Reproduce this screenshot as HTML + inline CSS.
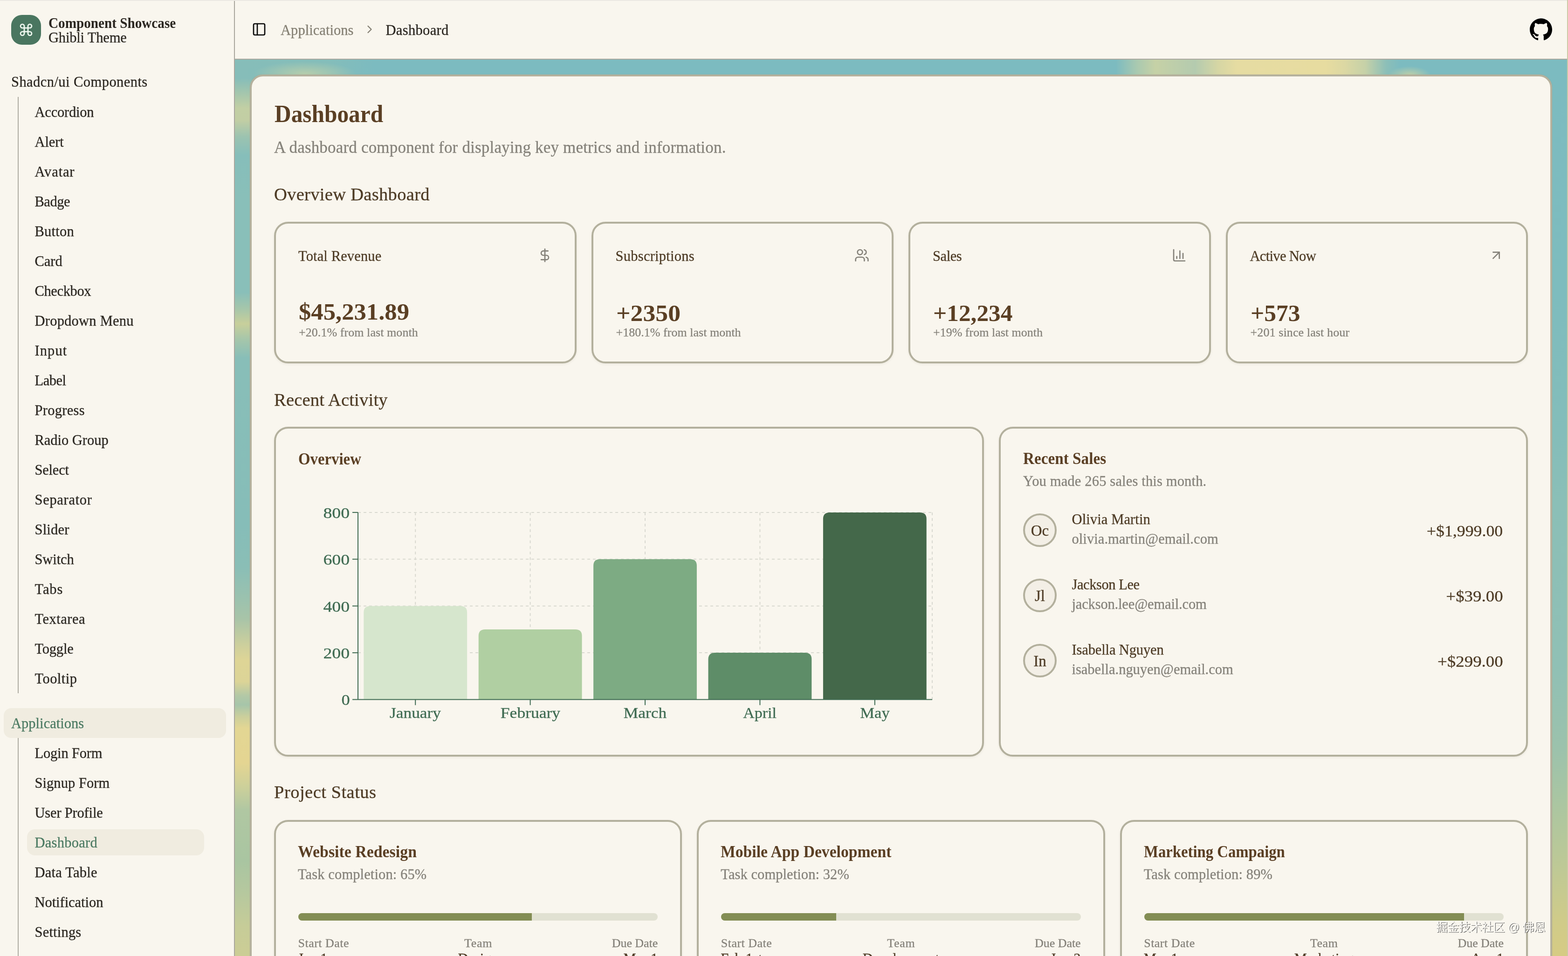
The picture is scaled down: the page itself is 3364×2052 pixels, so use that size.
<!DOCTYPE html><html lang="en"><head><meta charset="utf-8"><title>Dashboard - Component Showcase</title><style>
*{margin:0;padding:0}
html,body{width:3364px;height:2052px;overflow:hidden;background:#f9f6ee;font-family:"Liberation Serif",serif;}
body{position:relative;will-change:transform}
.t{position:absolute;white-space:nowrap;font-kerning:normal;-webkit-text-stroke:.3px}
.b{-webkit-text-stroke:0}
.sidebar{position:absolute;left:0;top:0;width:502px;height:2052px;background:#f9f6ee;border-right:2px solid #a9a69d}
.topbar{position:absolute;left:504px;top:0;width:2860px;height:126px;background:#f9f6ee;border-bottom:2px solid #aaa89f}
.bgmain{position:absolute;left:504px;top:128px;width:2858px;height:1924px;background:#7cbbc0}
.bgtop{position:absolute;left:504px;top:128px;width:2858px;height:36px;background:
 radial-gradient(ellipse 110px 26px at 150px 30px,rgba(190,208,170,.85),rgba(190,208,170,0) 100%),
 radial-gradient(ellipse 46px 20px at 2520px 34px,rgba(200,210,165,.9),rgba(200,210,165,0) 100%),
 linear-gradient(90deg,#86bdb9 0,#84bdba 200px,#7cbbc0 300px,#7cbbc0 1890px,#a9c9b0 1935px,#c6d1a6 1975px,#b4cbaf 2060px,#d6d6a4 2110px,#e6dca2 2150px,#e7dca0 2340px,#dcd8a3 2380px,#c6d1a8 2425px,#8cbfb8 2470px,#7cbbc0 2500px,#7cbbc0 100%)}
.bgleft{position:absolute;left:504px;top:128px;width:64px;height:1924px;background:
 linear-gradient(180deg,#84bdba 0,#86bdb9 40px,#a4c6ad 72px,#c2cfa4 104px,#c2cea4 130px,#9cc3b0 165px,#86beba 205px,#89bfb9 300px,#89bfb9 500px,#a6c6aa 535px,#c8cf9b 567px,#a6c6aa 600px,#88beb8 640px,#86bdb8 1000px,#8abeb6 1090px,#9cc2ae 1160px,#a8c4a8 1200px,#cfd09c 1260px,#ded596 1290px,#dcd497 1335px,#b3c8a6 1365px,#a6c5aa 1385px,#cbcf9c 1410px,#e3d693 1435px,#e4d592 1510px,#cdd09a 1560px,#b0c7a2 1610px,#a9c5a1 1720px,#b6c89e 1790px,#c6cc98 1860px,#cccd95 1924px)}
.bgright{position:absolute;left:3298px;top:128px;width:64px;height:1924px;background:
 linear-gradient(180deg,#7cbbc0 0,#7ebcbe 500px,#84bdba 800px,#8bbfb7 950px,#90c0b5 1300px,#9cc2ac 1480px,#abc6a1 1600px,#bfc995 1740px,#d0cb89 1850px,#d6cb84 1924px)}
.maincard{position:absolute;left:536px;top:160px;width:2794px;height:1960px;box-sizing:border-box;border:4px solid #b5b19d;border-radius:28px;background:#f9f6ee;box-shadow:0 0 2px rgba(150,140,105,.4)}
.topline{position:absolute;left:0;top:0;width:3364px;height:2px;background:#ece9e3}
.rightsliver{position:absolute;left:3362px;top:0;width:2px;height:2052px;background:#cdc9a5}
</style></head><body><div class="bgmain"></div><div class="bgleft"></div><div class="bgright"></div><div class="bgtop"></div><aside><div class="sidebar"></div><div style="position:absolute;left:24px;top:32px;width:64px;height:64px;border-radius:23px;background:#4a7660;"></div><svg style="position:absolute;left:40px;top:48px" width="32" height="32" viewBox="0 0 24 24" fill="none" stroke="#f3fbf3" stroke-width="2" stroke-linecap="round" stroke-linejoin="round"><path d="M15 6v12a3 3 0 1 0 3-3H6a3 3 0 1 0 3 3V6a3 3 0 1 0-3 3h12a3 3 0 1 0-3-3"/></svg><span class="t b" style="top:34.71px;font-size:30.5px;line-height:30.5px;color:#2b2721;font-weight:700;left:104.00px;transform:scaleX(0.9568);transform-origin:left center;">Component Showcase</span><span class="t" style="top:65.71px;font-size:30.5px;line-height:30.5px;color:#2b2721;letter-spacing:-0.180px;left:104.00px;">Ghibli Theme</span><span class="t" style="top:161.21px;font-size:30.5px;line-height:30.5px;color:#2b2721;letter-spacing:0.443px;left:24.00px;">Shadcn/ui Components</span><div style="position:absolute;left:38px;top:208px;width:2px;height:1280px;background:#aeaca2;"></div><span class="t" style="top:226.01px;font-size:30.5px;line-height:30.5px;color:#2b2721;letter-spacing:-0.214px;left:74.50px;">Accordion</span><span class="t" style="top:290.02px;font-size:30.5px;line-height:30.5px;color:#2b2721;letter-spacing:-0.113px;left:74.50px;">Alert</span><span class="t" style="top:354.03px;font-size:30.5px;line-height:30.5px;color:#2b2721;letter-spacing:0.860px;left:74.50px;">Avatar</span><span class="t" style="top:418.04px;font-size:30.5px;line-height:30.5px;color:#2b2721;letter-spacing:-0.500px;left:74.50px;">Badge</span><span class="t" style="top:482.05px;font-size:30.5px;line-height:30.5px;color:#2b2721;letter-spacing:0.235px;left:74.50px;">Button</span><span class="t" style="top:546.06px;font-size:30.5px;line-height:30.5px;color:#2b2721;letter-spacing:-0.026px;left:74.50px;">Card</span><span class="t" style="top:610.07px;font-size:30.5px;line-height:30.5px;color:#2b2721;letter-spacing:-0.379px;left:74.50px;">Checkbox</span><span class="t" style="top:674.08px;font-size:30.5px;line-height:30.5px;color:#2b2721;letter-spacing:0.231px;left:74.50px;">Dropdown Menu</span><span class="t" style="top:738.09px;font-size:30.5px;line-height:30.5px;color:#2b2721;letter-spacing:1.082px;left:74.50px;">Input</span><span class="t" style="top:802.10px;font-size:30.5px;line-height:30.5px;color:#2b2721;letter-spacing:-0.479px;left:74.50px;">Label</span><span class="t" style="top:866.11px;font-size:30.5px;line-height:30.5px;color:#2b2721;letter-spacing:0.280px;left:74.50px;">Progress</span><span class="t" style="top:930.12px;font-size:30.5px;line-height:30.5px;color:#2b2721;letter-spacing:-0.020px;left:74.50px;">Radio Group</span><span class="t" style="top:994.13px;font-size:30.5px;line-height:30.5px;color:#2b2721;letter-spacing:-0.202px;left:74.50px;">Select</span><span class="t" style="top:1058.14px;font-size:30.5px;line-height:30.5px;color:#2b2721;letter-spacing:0.693px;left:74.50px;">Separator</span><span class="t" style="top:1122.15px;font-size:30.5px;line-height:30.5px;color:#2b2721;letter-spacing:0.192px;left:74.50px;">Slider</span><span class="t" style="top:1186.16px;font-size:30.5px;line-height:30.5px;color:#2b2721;letter-spacing:-0.103px;left:74.50px;">Switch</span><span class="t" style="top:1250.17px;font-size:30.5px;line-height:30.5px;color:#2b2721;letter-spacing:0.883px;left:74.50px;">Tabs</span><span class="t" style="top:1314.18px;font-size:30.5px;line-height:30.5px;color:#2b2721;letter-spacing:0.498px;left:74.50px;">Textarea</span><span class="t" style="top:1378.19px;font-size:30.5px;line-height:30.5px;color:#2b2721;letter-spacing:-0.209px;left:74.50px;">Toggle</span><span class="t" style="top:1442.20px;font-size:30.5px;line-height:30.5px;color:#2b2721;letter-spacing:0.455px;left:74.50px;">Tooltip</span><div style="position:absolute;left:8px;top:1520px;width:477px;height:64px;border-radius:16px;background:#f0ece0;"></div><span class="t" style="top:1538.21px;font-size:30.5px;line-height:30.5px;color:#4b7a62;letter-spacing:0.031px;left:24.00px;">Applications</span><div style="position:absolute;left:38px;top:1584px;width:2px;height:480px;background:#aeaca2;"></div><div style="position:absolute;left:58px;top:1779.5px;width:380px;height:56px;border-radius:17px;background:#f0ece0;"></div><span class="t" style="top:1601.51px;font-size:30.5px;line-height:30.5px;color:#2b2721;letter-spacing:-0.173px;left:74.50px;">Login Form</span><span class="t" style="top:1665.66px;font-size:30.5px;line-height:30.5px;color:#2b2721;letter-spacing:0.056px;left:74.50px;">Signup Form</span><span class="t" style="top:1729.81px;font-size:30.5px;line-height:30.5px;color:#2b2721;letter-spacing:-0.183px;left:74.50px;">User Profile</span><span class="t" style="top:1793.96px;font-size:30.5px;line-height:30.5px;color:#4b7a62;letter-spacing:0.260px;left:74.50px;">Dashboard</span><span class="t" style="top:1858.11px;font-size:30.5px;line-height:30.5px;color:#2b2721;letter-spacing:0.219px;left:74.50px;">Data Table</span><span class="t" style="top:1922.26px;font-size:30.5px;line-height:30.5px;color:#2b2721;letter-spacing:-0.043px;left:74.50px;">Notification</span><span class="t" style="top:1986.41px;font-size:30.5px;line-height:30.5px;color:#2b2721;letter-spacing:0.203px;left:74.50px;">Settings</span></aside><header><div class="topbar"></div><svg style="position:absolute;left:540px;top:47px" width="32" height="32" viewBox="0 0 24 24" fill="none" stroke="#0b0b0b" stroke-width="2" stroke-linecap="round" stroke-linejoin="round"><rect width="18" height="18" x="3" y="3" rx="2"/><path d="M9 3v18"/></svg><span class="t" style="top:49.61px;font-size:30.5px;line-height:30.5px;color:#858074;letter-spacing:0.050px;left:602.00px;">Applications</span><svg style="position:absolute;left:779px;top:49px" width="28" height="28" viewBox="0 0 24 24" fill="none" stroke="#858074" stroke-width="2" stroke-linecap="round" stroke-linejoin="round"><path d="m9 18 6-6-6-6"/></svg><span class="t" style="top:49.61px;font-size:30.5px;line-height:30.5px;color:#2b2721;letter-spacing:0.335px;left:827.50px;">Dashboard</span><svg style="position:absolute;left:3282px;top:39px" width="48" height="48" viewBox="0 0 24 24" fill="#000"><path d="M12 .297c-6.63 0-12 5.373-12 12 0 5.303 3.438 9.8 8.205 11.385.6.113.82-.258.82-.577 0-.285-.01-1.04-.015-2.04-3.338.724-4.042-1.61-4.042-1.61C4.422 18.07 3.633 17.7 3.633 17.7c-1.087-.744.084-.729.084-.729 1.205.084 1.838 1.236 1.838 1.236 1.07 1.835 2.809 1.305 3.495.998.108-.776.417-1.305.76-1.605-2.665-.3-5.466-1.332-5.466-5.93 0-1.31.465-2.38 1.235-3.22-.135-.303-.54-1.523.105-3.176 0 0 1.005-.322 3.3 1.23.96-.267 1.98-.399 3-.405 1.02.006 2.04.138 3 .405 2.28-1.552 3.285-1.23 3.285-1.23.645 1.653.24 2.873.12 3.176.765.84 1.23 1.91 1.23 3.22 0 4.61-2.805 5.625-5.475 5.92.42.36.81 1.096.81 2.22 0 1.606-.015 2.896-.015 3.286 0 .315.21.69.825.57C20.565 22.092 24 17.592 24 12.297c0-6.627-5.373-12-12-12"/></svg></header><main class="maincard"></main><section class="content"><span class="t b" style="top:218.28px;font-size:52.5px;line-height:52.5px;color:#5a3f24;font-weight:700;left:588.50px;transform:scaleX(0.9399);transform-origin:left center;">Dashboard</span><span class="t" style="top:299.24px;font-size:35px;line-height:35px;color:#85827a;letter-spacing:0.187px;left:588.00px;">A dashboard component for displaying key metrics and information.</span><span class="t" style="top:398.01px;font-size:38.5px;line-height:38.5px;color:#4d3b25;letter-spacing:0.313px;left:588.00px;">Overview Dashboard</span><div style="position:absolute;left:588px;top:476px;width:648.5px;height:304px;border:4px solid #b3b09d;border-radius:30px;background:#f9f6ee;box-shadow:0 2px 5px rgba(90,80,50,.08);box-sizing:border-box;"></div><span class="t" style="top:534.51px;font-size:30.5px;line-height:30.5px;color:#4d3b25;letter-spacing:0.137px;left:640.00px;">Total Revenue</span><svg style="position:absolute;left:1152.5px;top:532px" width="32" height="32" viewBox="0 0 24 24" fill="none" stroke="#85827a" stroke-width="2" stroke-linecap="round" stroke-linejoin="round"><line x1="12" x2="12" y1="2" y2="22"/><path d="M17 5H9.5a3.5 3.5 0 0 0 0 7h5a3.5 3.5 0 0 1 0 7H6"/></svg><span class="t b" style="top:644.38px;font-size:50px;line-height:50px;color:#5a3f24;font-weight:700;left:641.00px;transform:scaleX(1.0533);transform-origin:left center;">$45,231.89</span><span class="t" style="top:700.58px;font-size:26px;line-height:26px;color:#85827a;letter-spacing:0.063px;left:641.00px;">+20.1% from last month</span><div style="position:absolute;left:1268.5px;top:476px;width:648.5px;height:304px;border:4px solid #b3b09d;border-radius:30px;background:#f9f6ee;box-shadow:0 2px 5px rgba(90,80,50,.08);box-sizing:border-box;"></div><span class="t" style="top:534.51px;font-size:30.5px;line-height:30.5px;color:#4d3b25;letter-spacing:0.262px;left:1320.50px;">Subscriptions</span><svg style="position:absolute;left:1833.0px;top:532px" width="32" height="32" viewBox="0 0 24 24" fill="none" stroke="#85827a" stroke-width="2" stroke-linecap="round" stroke-linejoin="round"><path d="M16 21v-2a4 4 0 0 0-4-4H6a4 4 0 0 0-4 4v2"/><circle cx="9" cy="7" r="4"/><path d="M22 21v-2a4 4 0 0 0-3-3.87"/><path d="M16 3.13a4 4 0 0 1 0 7.75"/></svg><span class="t b" style="top:647.38px;font-size:50px;line-height:50px;color:#5a3f24;font-weight:700;left:1321.50px;transform:scaleX(1.0739);transform-origin:left center;">+2350</span><span class="t" style="top:700.58px;font-size:26px;line-height:26px;color:#85827a;letter-spacing:0.028px;left:1321.50px;">+180.1% from last month</span><div style="position:absolute;left:1949px;top:476px;width:648.5px;height:304px;border:4px solid #b3b09d;border-radius:30px;background:#f9f6ee;box-shadow:0 2px 5px rgba(90,80,50,.08);box-sizing:border-box;"></div><span class="t" style="top:534.51px;font-size:30.5px;line-height:30.5px;color:#4d3b25;letter-spacing:-0.418px;left:2001.00px;">Sales</span><svg style="position:absolute;left:2513.5px;top:532px" width="32" height="32" viewBox="0 0 24 24" fill="none" stroke="#85827a" stroke-width="2" stroke-linecap="round" stroke-linejoin="round"><path d="M3 3v16a2 2 0 0 0 2 2h16"/><path d="M18 17V9"/><path d="M13 17V5"/><path d="M8 17v-3"/></svg><span class="t b" style="top:647.38px;font-size:50px;line-height:50px;color:#5a3f24;font-weight:700;left:2002.00px;transform:scaleX(1.0265);transform-origin:left center;">+12,234</span><span class="t" style="top:700.58px;font-size:26px;line-height:26px;color:#85827a;letter-spacing:0.006px;left:2002.00px;">+19% from last month</span><div style="position:absolute;left:2629.5px;top:476px;width:648.5px;height:304px;border:4px solid #b3b09d;border-radius:30px;background:#f9f6ee;box-shadow:0 2px 5px rgba(90,80,50,.08);box-sizing:border-box;"></div><span class="t" style="top:534.51px;font-size:30.5px;line-height:30.5px;color:#4d3b25;letter-spacing:-0.668px;left:2681.50px;">Active Now</span><svg style="position:absolute;left:3194.0px;top:532px" width="32" height="32" viewBox="0 0 24 24" fill="none" stroke="#85827a" stroke-width="2" stroke-linecap="round" stroke-linejoin="round"><path d="M7 7h10v10"/><path d="M7 17 17 7"/></svg><span class="t b" style="top:647.38px;font-size:50px;line-height:50px;color:#5a3f24;font-weight:700;left:2682.50px;transform:scaleX(1.0290);transform-origin:left center;">+573</span><span class="t" style="top:700.58px;font-size:26px;line-height:26px;color:#85827a;letter-spacing:0.115px;left:2682.50px;">+201 since last hour</span><span class="t" style="top:839.21px;font-size:38.5px;line-height:38.5px;color:#4d3b25;letter-spacing:0.212px;left:588.00px;">Recent Activity</span><div style="position:absolute;left:588px;top:916px;width:1523.4px;height:708px;border:4px solid #b3b09d;border-radius:30px;background:#f9f6ee;box-shadow:0 2px 5px rgba(90,80,50,.08);box-sizing:border-box;"></div><span class="t b" style="top:968.04px;font-size:35px;line-height:35px;color:#5a3f24;font-weight:700;left:640.00px;transform:scaleX(0.9379);transform-origin:left center;">Overview</span><svg style="position:absolute;left:600px;top:1040px" width="1500" height="520" viewBox="600 1040 1500 520"><line x1="768.0" x2="2000.0" y1="1401.1" y2="1401.1" stroke="#d9d9d0" stroke-width="2" stroke-dasharray="6 6"/><line x1="768.0" x2="2000.0" y1="1300.7" y2="1300.7" stroke="#d9d9d0" stroke-width="2" stroke-dasharray="6 6"/><line x1="768.0" x2="2000.0" y1="1200.3" y2="1200.3" stroke="#d9d9d0" stroke-width="2" stroke-dasharray="6 6"/><line x1="768.0" x2="2000.0" y1="1099.9" y2="1099.9" stroke="#d9d9d0" stroke-width="2" stroke-dasharray="6 6"/><line x1="891.2" x2="891.2" y1="1099.9" y2="1501.5" stroke="#d9d9d0" stroke-width="2" stroke-dasharray="6 6"/><line x1="1137.6" x2="1137.6" y1="1099.9" y2="1501.5" stroke="#d9d9d0" stroke-width="2" stroke-dasharray="6 6"/><line x1="1384.0" x2="1384.0" y1="1099.9" y2="1501.5" stroke="#d9d9d0" stroke-width="2" stroke-dasharray="6 6"/><line x1="1630.4" x2="1630.4" y1="1099.9" y2="1501.5" stroke="#d9d9d0" stroke-width="2" stroke-dasharray="6 6"/><line x1="1876.8" x2="1876.8" y1="1099.9" y2="1501.5" stroke="#d9d9d0" stroke-width="2" stroke-dasharray="6 6"/><line x1="2000.0" x2="2000.0" y1="1099.9" y2="1501.5" stroke="#d9d9d0" stroke-width="2" stroke-dasharray="6 6"/><path d="M780.3,1501.5 V1314.7 Q780.3,1300.7 794.3,1300.7 H988.1 Q1002.1,1300.7 1002.1,1314.7 V1501.5 Z" fill="#d6e6cd"/><path d="M1026.7,1501.5 V1364.9 Q1026.7,1350.9 1040.7,1350.9 H1234.5 Q1248.5,1350.9 1248.5,1364.9 V1501.5 Z" fill="#b0cfa2"/><path d="M1273.1,1501.5 V1214.3 Q1273.1,1200.3 1287.1,1200.3 H1480.9 Q1494.9,1200.3 1494.9,1214.3 V1501.5 Z" fill="#7dab83"/><path d="M1519.5,1501.5 V1415.1 Q1519.5,1401.1 1533.5,1401.1 H1727.3 Q1741.3,1401.1 1741.3,1415.1 V1501.5 Z" fill="#5e8d68"/><path d="M1765.9,1501.5 V1113.9 Q1765.9,1099.9 1779.9,1099.9 H1973.7 Q1987.7,1099.9 1987.7,1113.9 V1501.5 Z" fill="#44684a"/><line x1="768.0" x2="768.0" y1="1099.9" y2="1501.5" stroke="#3f6b52" stroke-width="2"/><line x1="768.0" x2="2000.0" y1="1501.5" y2="1501.5" stroke="#3f6b52" stroke-width="2"/><line x1="756.0" x2="768.0" y1="1501.5" y2="1501.5" stroke="#3f6b52" stroke-width="2"/><line x1="756.0" x2="768.0" y1="1401.1" y2="1401.1" stroke="#3f6b52" stroke-width="2"/><line x1="756.0" x2="768.0" y1="1300.7" y2="1300.7" stroke="#3f6b52" stroke-width="2"/><line x1="756.0" x2="768.0" y1="1200.3" y2="1200.3" stroke="#3f6b52" stroke-width="2"/><line x1="756.0" x2="768.0" y1="1099.9" y2="1099.9" stroke="#3f6b52" stroke-width="2"/><line x1="891.2" x2="891.2" y1="1501.5" y2="1513.5" stroke="#3f6b52" stroke-width="2"/><line x1="1137.6" x2="1137.6" y1="1501.5" y2="1513.5" stroke="#3f6b52" stroke-width="2"/><line x1="1384.0" x2="1384.0" y1="1501.5" y2="1513.5" stroke="#3f6b52" stroke-width="2"/><line x1="1630.4" x2="1630.4" y1="1501.5" y2="1513.5" stroke="#3f6b52" stroke-width="2"/><line x1="1876.8" x2="1876.8" y1="1501.5" y2="1513.5" stroke="#3f6b52" stroke-width="2"/></svg><span class="t" style="top:1487.37px;font-size:31.5px;line-height:31.5px;color:#3f6b52;right:2613.50px;transform:scaleX(1.1594);transform-origin:right center;">0</span><span class="t" style="top:1386.97px;font-size:31.5px;line-height:31.5px;color:#3f6b52;right:2613.50px;transform:scaleX(1.2034);transform-origin:right center;">200</span><span class="t" style="top:1286.57px;font-size:31.5px;line-height:31.5px;color:#3f6b52;right:2613.50px;transform:scaleX(1.2034);transform-origin:right center;">400</span><span class="t" style="top:1186.17px;font-size:31.5px;line-height:31.5px;color:#3f6b52;right:2613.50px;transform:scaleX(1.2034);transform-origin:right center;">600</span><span class="t" style="top:1085.77px;font-size:31.5px;line-height:31.5px;color:#3f6b52;right:2613.50px;transform:scaleX(1.2034);transform-origin:right center;">800</span><span class="t" style="top:1514.15px;font-size:32px;line-height:32px;color:#3f6b52;left:891.20px;transform:translateX(-50%) scaleX(1.1052);">January</span><span class="t" style="top:1514.15px;font-size:32px;line-height:32px;color:#3f6b52;left:1137.60px;transform:translateX(-50%) scaleX(1.1105);">February</span><span class="t" style="top:1514.15px;font-size:32px;line-height:32px;color:#3f6b52;left:1384.00px;transform:translateX(-50%) scaleX(1.1049);">March</span><span class="t" style="top:1514.15px;font-size:32px;line-height:32px;color:#3f6b52;left:1630.40px;transform:translateX(-50%) scaleX(1.0612);">April</span><span class="t" style="top:1514.15px;font-size:32px;line-height:32px;color:#3f6b52;left:1876.80px;transform:translateX(-50%) scaleX(1.0788);">May</span><div style="position:absolute;left:2143.4px;top:916px;width:1134.6px;height:708px;border:4px solid #b3b09d;border-radius:30px;background:#f9f6ee;box-shadow:0 2px 5px rgba(90,80,50,.08);box-sizing:border-box;"></div><span class="t b" style="top:967.34px;font-size:35px;line-height:35px;color:#5a3f24;font-weight:700;left:2195.00px;transform:scaleX(0.9493);transform-origin:left center;">Recent Sales</span><span class="t" style="top:1018.11px;font-size:30.5px;line-height:30.5px;color:#85827a;letter-spacing:0.169px;left:2195.00px;">You made 265 sales this month.</span><div style="position:absolute;left:2195px;top:1102px;width:72px;height:72px;border:4px solid #b3b09d;border-radius:50%;background:#f3efe6;box-sizing:border-box;"></div><span class="t" style="top:1123.01px;font-size:33px;line-height:33px;color:#4d3b25;left:2231.00px;transform:translateX(-50%);">Oc</span><span class="t" style="top:1099.81px;font-size:30.5px;line-height:30.5px;color:#4d3b25;letter-spacing:0.112px;left:2299.50px;">Olivia Martin</span><span class="t" style="top:1141.71px;font-size:30.5px;line-height:30.5px;color:#85827a;letter-spacing:0.070px;left:2299.50px;">olivia.martin@email.com</span><span class="t" style="top:1122.68px;font-size:34px;line-height:34px;color:#4d3b25;right:139.50px;transform:scaleX(1.0527);transform-origin:right center;">+$1,999.00</span><div style="position:absolute;left:2195px;top:1242px;width:72px;height:72px;border:4px solid #b3b09d;border-radius:50%;background:#f3efe6;box-sizing:border-box;"></div><span class="t" style="top:1263.01px;font-size:33px;line-height:33px;color:#4d3b25;left:2231.00px;transform:translateX(-50%);">Jl</span><span class="t" style="top:1239.81px;font-size:30.5px;line-height:30.5px;color:#4d3b25;letter-spacing:-0.429px;left:2299.50px;">Jackson Lee</span><span class="t" style="top:1281.71px;font-size:30.5px;line-height:30.5px;color:#85827a;letter-spacing:-0.155px;left:2299.50px;">jackson.lee@email.com</span><span class="t" style="top:1262.68px;font-size:34px;line-height:34px;color:#4d3b25;right:139.50px;transform:scaleX(1.0858);transform-origin:right center;">+$39.00</span><div style="position:absolute;left:2195px;top:1382px;width:72px;height:72px;border:4px solid #b3b09d;border-radius:50%;background:#f3efe6;box-sizing:border-box;"></div><span class="t" style="top:1403.01px;font-size:33px;line-height:33px;color:#4d3b25;left:2231.00px;transform:translateX(-50%);">In</span><span class="t" style="top:1379.81px;font-size:30.5px;line-height:30.5px;color:#4d3b25;letter-spacing:-0.129px;left:2299.50px;">Isabella Nguyen</span><span class="t" style="top:1421.71px;font-size:30.5px;line-height:30.5px;color:#85827a;letter-spacing:-0.014px;left:2299.50px;">isabella.nguyen@email.com</span><span class="t" style="top:1402.68px;font-size:34px;line-height:34px;color:#4d3b25;right:139.50px;transform:scaleX(1.0846);transform-origin:right center;">+$299.00</span><span class="t" style="top:1680.71px;font-size:38.5px;line-height:38.5px;color:#4d3b25;letter-spacing:0.479px;left:588.00px;">Project Status</span><div style="position:absolute;left:588px;top:1760px;width:875.3px;height:400px;border:4px solid #b3b09d;border-radius:30px;background:#f9f6ee;box-shadow:0 2px 5px rgba(90,80,50,.08);box-sizing:border-box;"></div><span class="t b" style="top:1811.04px;font-size:35px;line-height:35px;color:#5a3f24;font-weight:700;left:639.00px;transform:scaleX(0.9678);transform-origin:left center;">Website Redesign</span><span class="t" style="top:1862.21px;font-size:30.5px;line-height:30.5px;color:#85827a;letter-spacing:0.116px;left:639.00px;">Task completion: 65%</span><div style="position:absolute;left:640px;top:1959.5px;width:771.3px;height:16px;border-radius:8px;background:#e1e1d2;overflow:hidden;"><div style="width:65%;height:100%;background:#838d54"></div></div><span class="t" style="top:2011.97px;font-size:26px;line-height:26px;color:#85827a;letter-spacing:0.484px;left:639.50px;">Start Date</span><span class="t" style="top:2011.97px;font-size:26px;line-height:26px;color:#85827a;letter-spacing:0.688px;left:1025.99px;transform:translateX(-50%);">Team</span><span class="t" style="top:2011.97px;font-size:26px;line-height:26px;color:#85827a;letter-spacing:-0.052px;right:1952.75px;">Due Date</span><span class="t" style="top:2042.71px;font-size:30.5px;line-height:30.5px;color:#4d3b25;left:639.00px;">Jan 1</span><span class="t" style="top:2042.71px;font-size:30.5px;line-height:30.5px;color:#4d3b25;left:1025.65px;transform:translateX(-50%);">Design</span><span class="t" style="top:2042.71px;font-size:30.5px;line-height:30.5px;color:#4d3b25;right:1952.70px;">Mar 1</span><div style="position:absolute;left:1495.3px;top:1760px;width:875.3px;height:400px;border:4px solid #b3b09d;border-radius:30px;background:#f9f6ee;box-shadow:0 2px 5px rgba(90,80,50,.08);box-sizing:border-box;"></div><span class="t b" style="top:1811.04px;font-size:35px;line-height:35px;color:#5a3f24;font-weight:700;left:1546.30px;transform:scaleX(0.9614);transform-origin:left center;">Mobile App Development</span><span class="t" style="top:1862.21px;font-size:30.5px;line-height:30.5px;color:#85827a;letter-spacing:0.079px;left:1546.30px;">Task completion: 32%</span><div style="position:absolute;left:1547.3px;top:1959.5px;width:771.3px;height:16px;border-radius:8px;background:#e1e1d2;overflow:hidden;"><div style="width:32%;height:100%;background:#838d54"></div></div><span class="t" style="top:2011.97px;font-size:26px;line-height:26px;color:#85827a;letter-spacing:0.484px;left:1546.80px;">Start Date</span><span class="t" style="top:2011.97px;font-size:26px;line-height:26px;color:#85827a;letter-spacing:0.688px;left:1933.29px;transform:translateX(-50%);">Team</span><span class="t" style="top:2011.97px;font-size:26px;line-height:26px;color:#85827a;letter-spacing:-0.052px;right:1045.45px;">Due Date</span><span class="t" style="top:2042.71px;font-size:30.5px;line-height:30.5px;color:#4d3b25;left:1546.30px;">Feb 1st</span><span class="t" style="top:2042.71px;font-size:30.5px;line-height:30.5px;color:#4d3b25;left:1932.95px;transform:translateX(-50%);">Development</span><span class="t" style="top:2042.71px;font-size:30.5px;line-height:30.5px;color:#4d3b25;right:1045.40px;">Jun 3</span><div style="position:absolute;left:2402.7px;top:1760px;width:875.3px;height:400px;border:4px solid #b3b09d;border-radius:30px;background:#f9f6ee;box-shadow:0 2px 5px rgba(90,80,50,.08);box-sizing:border-box;"></div><span class="t b" style="top:1811.04px;font-size:35px;line-height:35px;color:#5a3f24;font-weight:700;left:2453.70px;transform:scaleX(0.9353);transform-origin:left center;">Marketing Campaign</span><span class="t" style="top:1862.21px;font-size:30.5px;line-height:30.5px;color:#85827a;letter-spacing:0.116px;left:2453.70px;">Task completion: 89%</span><div style="position:absolute;left:2454.7px;top:1959.5px;width:771.3px;height:16px;border-radius:8px;background:#e1e1d2;overflow:hidden;"><div style="width:89%;height:100%;background:#838d54"></div></div><span class="t" style="top:2011.97px;font-size:26px;line-height:26px;color:#85827a;letter-spacing:0.484px;left:2454.20px;">Start Date</span><span class="t" style="top:2011.97px;font-size:26px;line-height:26px;color:#85827a;letter-spacing:0.688px;left:2840.69px;transform:translateX(-50%);">Team</span><span class="t" style="top:2011.97px;font-size:26px;line-height:26px;color:#85827a;letter-spacing:-0.052px;right:138.05px;">Due Date</span><span class="t" style="top:2042.71px;font-size:30.5px;line-height:30.5px;color:#4d3b25;left:2453.70px;">Mar 1</span><span class="t" style="top:2042.71px;font-size:30.5px;line-height:30.5px;color:#4d3b25;left:2840.35px;transform:translateX(-50%);">Marketing</span><span class="t" style="top:2042.71px;font-size:30.5px;line-height:30.5px;color:#4d3b25;right:138.00px;">Apr 1</span></section><svg style="position:absolute;left:3070px;top:1968.4px" width="270" height="45" viewBox="-10 -30.5 270 45"><text x="0.7" y="0" font-size="25" font-family="&quot;Liberation Sans&quot;, &quot;Noto Sans CJK SC&quot;, sans-serif" fill="#555" fill-opacity=".85" textLength="235" transform="translate(1.3 1.3)">掘金技术社区 @ 佛恩</text><text x="0.7" y="0" font-size="25" font-family="&quot;Liberation Sans&quot;, &quot;Noto Sans CJK SC&quot;, sans-serif" fill="#fbf9f4" textLength="235">掘金技术社区 @ 佛恩</text></svg><div class="topline"></div><div class="rightsliver"></div></body></html>
